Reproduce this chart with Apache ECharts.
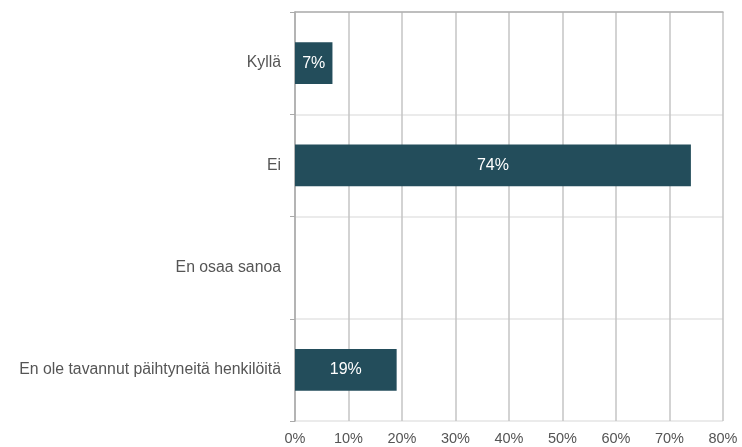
<!DOCTYPE html>
<html><head><meta charset="utf-8">
<script src="https://cdn.jsdelivr.net/npm/echarts@6/dist/echarts.min.js"></script>
<style>html,body{margin:0;padding:0;background:#fff}#c{width:742px;height:447px}</style>
</head><body><div id="c"></div>
<script>
const categories = ["Kyllä", "Ei", "En osaa sanoa", "En ole tavannut päihtyneitä henkilöitä"];
const values = [7, 74, null, 19];
const xTicks = [0, 10, 20, 30, 40, 50, 60, 70, 80];

const chart = echarts.init(document.getElementById('c'));
chart.setOption({
  animation: false,
  grid: { left: 295, right: 19, top: 12, bottom: 26 },
  xAxis: [{
    type: 'value', min: xTicks[0], max: xTicks[xTicks.length - 1], interval: 10,
    axisLine: { show: false }, axisTick: { show: false },
    axisLabel: { formatter: '{value}%', color: '#555', fontSize: 14.5, fontFamily: 'Liberation Sans, Arial, sans-serif', margin: 10 },
    splitLine: { show: true, lineStyle: { color: '#c4c4c4', width: 1.5 } }
  }, {
    type: 'value', position: 'top', min: 0, max: 80, interval: 10,
    axisLine: { show: true, lineStyle: { color: '#b0b0b0', width: 1.5 } },
    axisTick: { show: false }, axisLabel: { show: false }, splitLine: { show: false }
  }],
  yAxis: {
    type: 'category', data: categories, inverse: true,
    axisLine: { show: true, lineStyle: { color: '#aaa', width: 1.5 } },
    axisTick: { show: true, length: 5, lineStyle: { color: '#aaa' } },
    splitLine: { show: true, lineStyle: { color: '#e4e4e4', width: 1.5 } },
    axisLabel: { color: '#555', fontSize: 15.8, fontFamily: 'Liberation Sans, Arial, sans-serif', margin: 14 }
  },
  series: [{
    type: 'bar', data: values, barCategoryGap: '59%',
    itemStyle: { color: '#234d5b' },
    label: { show: true, position: 'inside', formatter: '{c}%', color: '#fff', fontSize: 16, fontFamily: 'Liberation Sans, Arial, sans-serif' }
  }]
});
</script></body></html>
